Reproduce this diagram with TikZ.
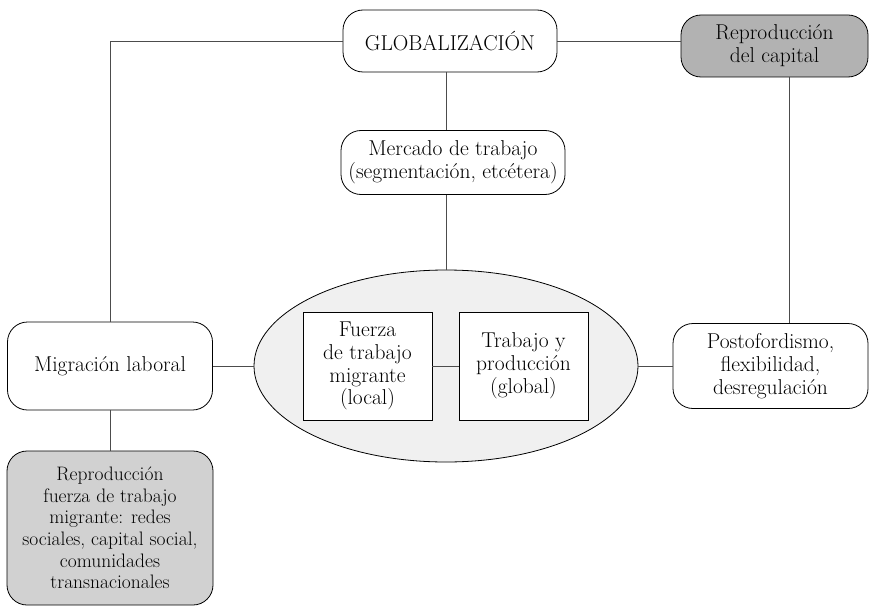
\documentclass[tikz,border=0pt]{standalone}
\usepackage{tikz}
\usetikzlibrary{shapes.geometric}
\tikzstyle{box}=[rectangle,rounded corners=20pt,draw,line width=0.8pt,fill=white,text=black,align=center,inner sep=0pt]
\tikzstyle{dark}=[box,fill=black!30]
\tikzstyle{light}=[box,fill=black!18,font=\fontsize{19.5}{21.7}\selectfont]
\tikzstyle{square}=[rectangle,draw,line width=0.8pt,fill=white,text=black,align=center,inner sep=0pt]
\tikzstyle{link}=[draw=black!70,line width=0.9pt]

\begin{document}
\begin{tikzpicture}[x=1pt,y=-1pt,font=\fontsize{21.5}{22.8}\selectfont]
  \useasboundingbox (0,0) rectangle (869,607);

  \node[ellipse,draw,line width=0.8pt,fill=black!6,minimum width=384pt,minimum height=192pt,inner sep=0pt] (E) at (446,366) {};

  \node[box,minimum width=214pt,minimum height=62pt] (G) at (450,41) {GLOBALIZACIÓN};
  \node[dark,minimum width=187pt,minimum height=62pt] (R) at (774.5,46) {Reproducción\\del capital};
  \node[box,minimum width=224pt,minimum height=64pt] (K) at (453,162.5) {Mercado de trabajo\\(segmentación, etcétera)};
  \node[box,minimum width=205pt,minimum height=88pt] (M) at (110,366) {Migración laboral};
  \node[box,minimum width=195pt,minimum height=85pt] (P) at (770.5,366) {Postofordismo,\\flexibilidad,\\desregulación};
  \node[light,minimum width=206pt,minimum height=154pt] (L) at (110,528) {Reproducción\\fuerza de trabajo\\migrante: redes\\sociales, capital social,\\comunidades\\transnacionales};
  \node[square,minimum width=129pt,minimum height=108pt] (F) at (367.5,366) {Fuerza\\de trabajo\\migrante\\(local)};
  \node[square,minimum width=129pt,minimum height=108pt] (T) at (523.5,366) {Trabajo y\\producción\\(global)};

  \coordinate (rp) at (789,0);

  \draw[link] (G.west) -| (M.north);
  \draw[link] (G.east) -- (G.east -| R.west);
  \draw[link] (E.north |- G.south) -- (E.north |- K.north);
  \draw[link] (E.north |- K.south) -- (E.north);
  \draw[link] (R.south -| rp) -- (P.north -| rp);
  \draw[link] (M.east) -- (E.west);
  \draw[link] (E.east) -- (P.west);
  \draw[link] (F.east) -- (T.west);
  \draw[link] (M.south) -- (L.north);

\end{tikzpicture}
\end{document}
